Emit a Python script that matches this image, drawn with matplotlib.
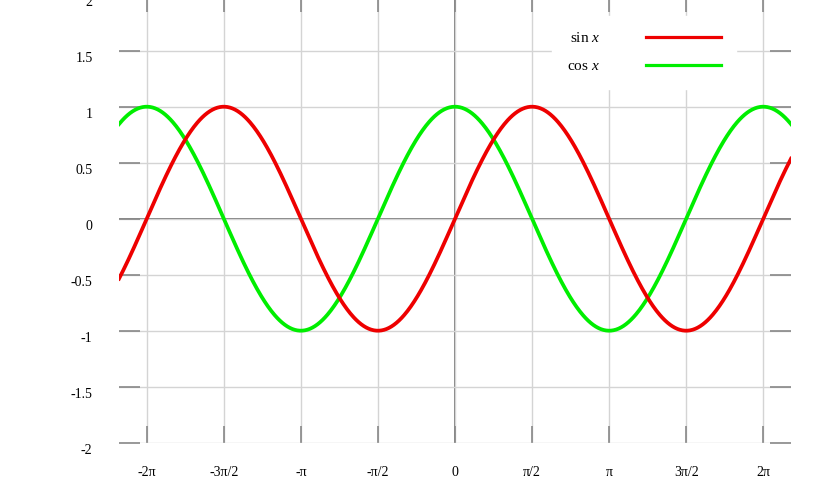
import numpy as np
import matplotlib
matplotlib.use("Agg")
import matplotlib.pyplot as plt
from matplotlib.transforms import ScaledTranslation

plt.rcParams['font.family'] = ['Liberation Serif', 'DejaVu Serif']
plt.rcParams['mathtext.fontset'] = 'custom'
plt.rcParams['mathtext.rm'] = 'Liberation Serif'
plt.rcParams['mathtext.it'] = 'Liberation Serif:italic'

# --- data ---
x_span = 2.18 * np.pi
x = np.linspace(-x_span, x_span, 800)
sin_y = np.sin(x)
cos_y = np.cos(x)

x_ticks = [-2 * np.pi, -1.5 * np.pi, -np.pi, -0.5 * np.pi, 0, 0.5 * np.pi, np.pi, 1.5 * np.pi, 2 * np.pi]
x_labels = ["-2π", "-3π/2", "-π", "-π/2", "0", "π/2", "π", "3π/2", "2π"]
y_ticks = [-2, -1.5, -1, -0.5, 0, 0.5, 1, 1.5, 2]
y_labels = ["-2", "-1.5", "-1", "-0.5", "0", "0.5", "1", "1.5", "2"]

fig = plt.figure(figsize=(8.4, 4.8), dpi=100)
# axes run a bit past the top edge of the figure
ax = fig.add_axes([119 / 840, 37.3 / 480, 672 / 840, 448 / 480])

ax.plot(x, cos_y, color="#00ee00", lw=2.7, label="cos $x$", zorder=3)
ax.plot(x, sin_y, color="#ee0000", lw=2.7, label="sin $x$", zorder=4)

ax.set_xlim(-x_span, x_span)
ax.set_ylim(-2, 2)
ax.set_xticks(x_ticks)
ax.set_xticklabels(x_labels)
ax.set_yticks(y_ticks)
ax.set_yticklabels(y_labels)

for s in ax.spines.values():
    s.set_visible(False)

ax.grid(True, color="#d4d4d4", lw=1.0, zorder=0)
ax.axhline(0, color="#666666", lw=1.2, zorder=1)
ax.axvline(0, color="#666666", lw=1.2, zorder=1)

ax.tick_params(axis="x", direction="in", length=12, width=1.2, color="#888888",
               top=True, bottom=True, labelsize=10, pad=17)
ax.tick_params(axis="y", direction="in", length=15, width=1.2, color="#888888",
               left=True, right=True, labelsize=10, pad=19)

# y labels sit a little below their ticks
off = ScaledTranslation(0, -0.06, fig.dpi_scale_trans)
for lab in ax.get_yticklabels():
    lab.set_transform(lab.get_transform() + off)

handles, labels = ax.get_legend_handles_labels()
leg = ax.legend(handles[::-1], labels[::-1], loc="upper left",
                bbox_to_anchor=(552 / 840, 1 - 16 / 480), bbox_transform=fig.transFigure,
                borderaxespad=0, markerfirst=False, frameon=True, fancybox=False, fontsize=11,
                handlelength=4.9, handletextpad=3.0, labelspacing=0.95, borderpad=1.0)
leg.get_frame().set_edgecolor("white")
leg.get_frame().set_facecolor("white")
leg.get_frame().set_alpha(1)
leg.set_zorder(2)
for ln in leg.get_lines():
    ln.set_linewidth(2.3)

fig.savefig("out.png", dpi=100, facecolor="white")
